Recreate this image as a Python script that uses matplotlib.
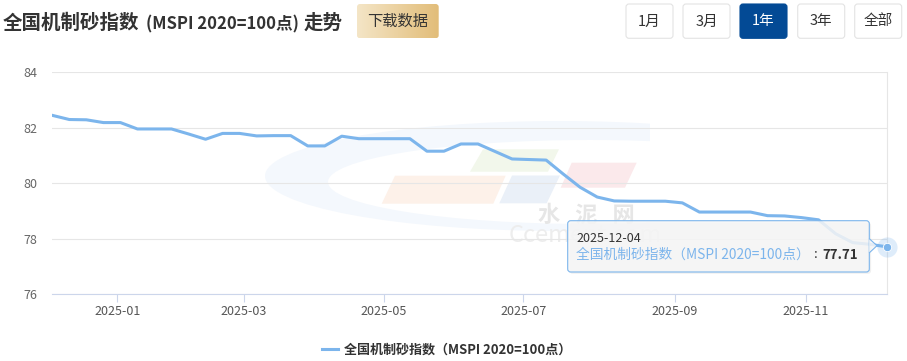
import matplotlib
matplotlib.use("Agg")
import matplotlib.pyplot as plt
import numpy as np
from matplotlib.patches import Ellipse, Polygon, FancyBboxPatch, Rectangle
from matplotlib.colors import LinearSegmentedColormap

plt.rcParams['font.family'] = ['Noto Sans CJK SC', 'DejaVu Sans']

# 全国机制砂指数 weekly values (50 points, last = 2025-12-04)
values = [82.44, 82.29, 82.28, 82.18, 82.18, 81.95, 81.95, 81.95, 81.77, 81.58,
          81.79, 81.79, 81.70, 81.71, 81.71, 81.34, 81.34, 81.69, 81.60, 81.60,
          81.60, 81.60, 81.15, 81.15, 81.41, 81.41, 81.14, 80.87, 80.85, 80.83,
          80.33, 79.85, 79.50, 79.36, 79.35, 79.35, 79.35, 79.29, 78.96, 78.96,
          78.96, 78.96, 78.83, 78.82, 78.76, 78.68, 78.18, 77.86, 77.80, 77.71]
x_idx = list(range(len(values)))
# month ticks fall between weekly points (ordinal axis)
tick_pos = [3.82, 11.26, 19.48, 27.66, 36.57, 44.26]
tick_labels = ["2025-01", "2025-03", "2025-05", "2025-07", "2025-09", "2025-11"]
y_ticks = [76, 78, 80, 82, 84]
last_date = "2025-12-04"
series_name = "全国机制砂指数（MSPI 2020=100点）"

LINE = "#7cb5ec"
W, H = 907, 361
fig = plt.figure(figsize=(W / 100, H / 100), dpi=100)

# background layer (watermark), pixel coordinates
bg = fig.add_axes([0, 0, 1, 1], zorder=0)
bg.set_xlim(0, W)
bg.set_ylim(H, 0)
bg.axis("off")
bg.add_patch(Ellipse((560, 176), 590, 110, color="#f4f8fd", lw=0))
bg.add_patch(Ellipse((590, 182), 524, 84, color="white", lw=0))
bg.add_patch(Rectangle((650, 100), 260, 150, color="white", lw=0))
bg.add_patch(Polygon([(381.7, 203.7), (395, 175.7), (505.7, 175.7), (493.3, 203.7)],
                     color="#fdf1e9", lw=0))
bg.add_patch(Polygon([(470, 171.7), (483, 149.3), (559, 149.3), (548, 171.7)],
                     color="#f2f7eb", lw=0))
bg.add_patch(Polygon([(499.3, 203.3), (512, 175.5), (560, 175.5), (546.7, 203.3)],
                     color="#eaf0f8", lw=0))
bg.add_patch(Polygon([(560.7, 187.7), (571.7, 162.7), (636.7, 162.7), (625, 187.7)],
                     color="#fbe9eb", lw=0))
bg.text(586, 215, "水   泥   网", ha="center", va="center", fontsize=16,
        fontweight="bold", color="#e6e6e6")
bg.text(585, 236, "Ccement.com", ha="center", va="center", fontsize=17,
        color="#ededed")

# main chart
ax = fig.add_axes([52.3 / W, 1 - 294.3 / H, (886.7 - 52.3) / W, (294.3 - 72) / H],
                  zorder=1)
ax.set_facecolor("none")
ax.plot(x_idx, values, color=LINE, lw=2.2, solid_joinstyle="round", zorder=3)
ax.scatter([x_idx[-1]], [values[-1]], s=210, color=LINE, alpha=0.25, lw=0,
           clip_on=False, zorder=4)
ax.scatter([x_idx[-1]], [values[-1]], s=36, color=LINE, edgecolor="white", lw=0.6,
           clip_on=False, zorder=5)
ax.set_xlim(0, len(values) - 1)
ax.set_ylim(76, 84)
ax.set_yticks(y_ticks)
ax.set_xticks(tick_pos)
ax.set_xticklabels(tick_labels)
ax.grid(axis="y", color="#e6e6e6", lw=0.8)
ax.set_axisbelow(True)
for s in ["left", "top"]:
    ax.spines[s].set_visible(False)
ax.spines["right"].set_color("#e6e6e6")
ax.spines["right"].set_linewidth(0.8)
ax.spines["bottom"].set_color("#ccd6eb")
ax.spines["bottom"].set_linewidth(0.8)
ax.tick_params(axis="y", length=0, pad=11, labelsize=9, labelcolor="#666666")
ax.tick_params(axis="x", length=6, width=0.8, color="#ccd6eb", pad=2,
               labelsize=9, labelcolor="#555555")

# foreground layer: header, tooltip, legend
fg = fig.add_axes([0, 0, 1, 1], zorder=10)
fg.patch.set_alpha(0)

fg.text(3, 23, "全国机制砂指数", ha="left", va="center", fontsize=14,
        fontweight="bold", color="#333333")
fg.text(146, 24, "(MSPI 2020=100点)", ha="left", va="center", fontsize=12,
        fontweight="bold", color="#333333")
fg.text(304, 23, "走势", ha="left", va="center", fontsize=14,
        fontweight="bold", color="#333333")

# download button with gold gradient
btn = FancyBboxPatch((357, 4), 81.7, 34.3, boxstyle="round,pad=0,rounding_size=3",
                     facecolor="none", edgecolor="none")
fg.add_patch(btn)
gold = LinearSegmentedColormap.from_list("gold", ["#f4e5c6", "#e2bd79"])
im = fg.imshow(np.linspace(0, 1, 64).reshape(1, -1), cmap=gold, aspect="auto",
               extent=(357, 438.7, 38.3, 4), zorder=1)
im.set_clip_path(btn)
fg.text(398, 21.5, "下载数据", ha="center", va="center", fontsize=11,
        color="#333333", zorder=2)

buttons = ["1月", "3月", "1年", "3年", "全部"]
btn_x = [626, 683, 740, 797.7, 854.7]
for lab, bx in zip(buttons, btn_x):
    active = lab == "1年"
    fg.add_patch(FancyBboxPatch((bx, 4), 47, 34.3, boxstyle="round,pad=0,rounding_size=3",
                                facecolor="#034a95" if active else "white",
                                edgecolor="#034a95" if active else "#e3e3e3", lw=0.8))
    fg.text(bx + 23.5, 21.5, lab, ha="center", va="center", fontsize=10.5,
            color="white" if active else "#333333")

# tooltip
fg.add_patch(FancyBboxPatch((569.5, 222.5), 301.6, 51.3,
                            boxstyle="round,pad=0,rounding_size=3",
                            facecolor="#000000", alpha=0.06, edgecolor="none"))
fg.add_patch(FancyBboxPatch((567.7, 220.7), 301.6, 51.3,
                            boxstyle="round,pad=0,rounding_size=3",
                            facecolor=(0.97, 0.97, 0.97, 0.85), edgecolor=LINE, lw=0.8))
fg.add_patch(Polygon([(869.1, 238.5), (877, 245.7), (869.1, 253)], closed=False,
                     facecolor=(0.97, 0.97, 0.97, 0.85), edgecolor=LINE, lw=0.8))
fg.text(576.5, 238.5, last_date, ha="left", va="center", fontsize=9, color="#333333")
fg.text(576.5, 255, series_name, ha="left", va="center", fontsize=9.9, color=LINE)
fg.text(816, 255, ":", ha="center", va="center", fontsize=9.4, color="#333333")
fg.text(822.5, 255, f"{values[-1]:.2f}", ha="left", va="center", fontsize=9.6,
        fontweight="bold", color="#333333")

# legend
fg.plot([321.7, 338.3], [349.3, 349.3], color=LINE, lw=2.2)
fg.text(344, 349.5, series_name, ha="left", va="center", fontsize=9.4,
        fontweight="bold", color="#333333")

fg.set_xlim(0, W)
fg.set_ylim(H, 0)
fg.axis("off")

fig.savefig("out.png", dpi=100)
